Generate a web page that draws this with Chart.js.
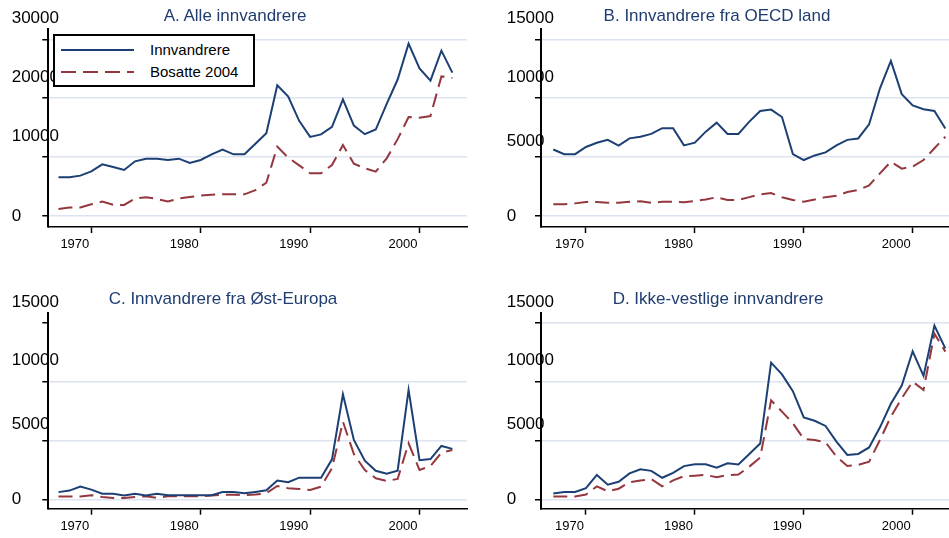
<!DOCTYPE html>
<html>
<head>
<meta charset="utf-8">
<script src="https://cdn.jsdelivr.net/npm/chart.js@4.4.1/dist/chart.umd.min.js"></script>
<style>
  body { margin: 0; background: #fff; }
  #wrap { position: relative; width: 949px; height: 538px; overflow: hidden; background: #fff;
          font-family: "Liberation Sans", Arial, sans-serif; }
  .panel { position: absolute; }
  .ttl { position: absolute; transform: translateX(-50%); white-space: nowrap;
         font-size: 17px; line-height: 18px; color: #1f3d70; }
  .legend { position: absolute; left: 53px; top: 34px; width: 198px; height: 49px;
            border: 2px solid #000; background: #fff; }
  .legend .row { position: absolute; left: 0; width: 198px; height: 20px; }
  .legend svg { position: absolute; left: 6px; top: 0; }
  .legend span { position: absolute; left: 95px; top: 0; font-size: 15px; line-height: 20px; color: #000; }
</style>
</head>
<body>
<div id="wrap">
  <div class="panel" style="left:0;top:0;width:475px;height:270px"><canvas id="cA"></canvas></div>
  <div class="panel" style="left:475px;top:0;width:494px;height:270px"><canvas id="cB"></canvas></div>
  <div class="panel" style="left:0;top:270px;width:475px;height:268px"><canvas id="cC"></canvas></div>
  <div class="panel" style="left:475px;top:270px;width:494px;height:268px"><canvas id="cD"></canvas></div>
  <div class="ttl" id="tA" style="left:235px;top:7px"></div>
  <div class="ttl" id="tB" style="left:717px;top:7px"></div>
  <div class="ttl" id="tC" style="left:223px;top:290px"></div>
  <div class="ttl" id="tD" style="left:718px;top:290px"></div>
  <div class="legend" id="legend"></div>
</div>
<script>
// data, 1967-2003
const years = [1967, 1968, 1969, 1970, 1971, 1972, 1973, 1974, 1975, 1976,
               1977, 1978, 1979, 1980, 1981, 1982, 1983, 1984, 1985, 1986,
               1987, 1988, 1989, 1990, 1991, 1992, 1993, 1994, 1995, 1996,
               1997, 1998, 1999, 2000, 2001, 2002, 2003];
const seriesNames = ['Innvandrere', 'Bosatte 2004'];
const titles = ['A. Alle innvandrere', 'B. Innvandrere fra OECD land',
                'C. Innvandrere fra Øst-Europa', 'D. Ikke-vestlige innvandrere'];

const allInnv = [6570, 6570, 6850, 7580, 8770, 8320, 7810, 9280, 9730, 9730,
                 9510, 9730, 9000, 9510, 10470, 11260, 10470, 10470, 12280, 14060,
                 22180, 20260, 16150, 13430, 13860, 15130, 19810, 15340, 13890, 14680,
                 19020, 23170, 29260, 25070, 22980, 28070, 24340];
const allBos = [1190, 1440, 1440, 1980, 2460, 1900, 1870, 2970, 3200, 2890,
                2460, 2970, 3220, 3480, 3620, 3680, 3680, 3680, 4400, 5650,
                11770, 9900, 8600, 7240, 7240, 8660, 12050, 8880, 8090, 7530,
                9790, 13050, 16800, 16700, 16980, 23700, 23430];

const oecdInnv = [5640, 5250, 5250, 5860, 6210, 6460, 5970, 6590, 6730, 6970,
                  7450, 7450, 5990, 6220, 7160, 7920, 6960, 6960, 8010, 8910,
                  9030, 8400, 5250, 4750, 5140, 5400, 5990, 6460, 6580, 7780,
                  10840, 13160, 10340, 9380, 9060, 8910, 7420];
const oecdBos = [990, 990, 1070, 1190, 1190, 1130, 1130, 1200, 1240, 1110,
                 1200, 1200, 1160, 1270, 1400, 1590, 1360, 1360, 1600, 1840,
                 1950, 1590, 1360, 1210, 1390, 1600, 1710, 2030, 2210, 2590,
                 3620, 4610, 4020, 4190, 4750, 5750, 6730];

const eastInnv = [610, 740, 1080, 820, 470, 470, 330, 470, 330, 470,
                  350, 350, 350, 350, 350, 620, 620, 510, 630, 760,
                  1590, 1450, 1840, 1840, 1840, 3400, 8930, 5050, 3280, 2430,
                  2180, 2430, 9300, 3320, 3420, 4540, 4290];
const eastBos = [230, 230, 230, 340, 200, 100, 100, 200, 250, 110,
                 250, 250, 250, 270, 320, 390, 390, 360, 400, 520,
                 1130, 940, 880, 790, 1080, 2640, 6600, 3850, 2490, 1790,
                 1560, 1730, 4760, 2490, 2830, 3970, 4200];

const nwInnv = [500, 620, 620, 940, 2070, 1240, 1490, 2200, 2560, 2420,
                1830, 2250, 2820, 2970, 2970, 2680, 3060, 2970, 3850, 4740,
                11620, 10620, 9200, 6960, 6680, 6240, 4900, 3770, 3860, 4410,
                6120, 8120, 9680, 12590, 10500, 14770, 12830];
const nwBos = [230, 230, 230, 400, 1100, 680, 900, 1460, 1590, 1730,
               1100, 1610, 1970, 2010, 2070, 1880, 2050, 2100, 2780, 3560,
               8410, 7460, 6460, 5130, 5050, 4850, 3630, 2830, 2920, 3200,
               5050, 7030, 8590, 10010, 9300, 14080, 12560];

const xTicks = [1970, 1980, 1990, 2000];
const yTicksAll = [0, 10000, 20000, 30000];
const yTicksSub = [0, 5000, 10000, 15000];

const NAVY = '#1c3f74';
const MAROON = '#94373e';
const GRID = '#dde3f0';
const FONT = '"Liberation Sans", Arial, sans-serif';

// labels sit above their ticks in the original figure
function yLabel(v) {
  if (v === 0) return '0';
  if (v === 5000) return [String(v), '', '', ''];
  return [String(v), '', '', '', ''];
}

function toPoints(vals) {
  return years.map((x, i) => ({x: x, y: vals[i]}));
}

function makePanel(id, innv, bos, yTicks, yMin, yMax, xMin, xMax, axisW, pad, hideTopGrid) {
  return new Chart(document.getElementById(id), {
    type: 'line',
    data: {
      datasets: [
        {label: seriesNames[0], data: toPoints(innv), borderColor: NAVY, borderWidth: 2,
         pointRadius: 0, tension: 0, fill: false},
        {label: seriesNames[1], data: toPoints(bos), borderColor: MAROON, borderWidth: 2,
         borderDash: [14, 7], pointRadius: 0, tension: 0, fill: false}
      ]
    },
    options: {
      responsive: true,
      maintainAspectRatio: false,
      animation: false,
      layout: {padding: pad},
      plugins: {legend: {display: false}, tooltip: {enabled: false}, title: {display: false}},
      scales: {
        x: {
          type: 'linear', min: xMin, max: xMax,
          afterBuildTicks: s => { s.ticks = xTicks.map(v => ({value: v})); },
          afterFit: s => { s.height = 27; },
          border: {color: '#000', width: 1.5},
          grid: {drawOnChartArea: false, color: '#000', tickLength: 6, tickColor: '#000', tickWidth: 1.5},
          // year labels end at their tick in the original
          ticks: {color: '#000', padding: 4, maxRotation: 0, autoSkip: false, align: 'end', labelOffset: -2,
                  font: {family: FONT, size: 13}, callback: v => String(v)}
        },
        y: {
          min: yMin, max: yMax,
          afterBuildTicks: s => { s.ticks = yTicks.map(v => ({value: v})); },
          afterFit: s => { s.width = axisW; },
          border: {color: '#000', width: 2},
          grid: {
            color: c => (hideTopGrid && c.tick && c.tick.value === yTicks[yTicks.length - 1]) ? 'rgba(0,0,0,0)' : GRID,
            lineWidth: 1.5, tickLength: 6, tickColor: '#000', tickWidth: 1.5
          },
          // mirrored labels are not clipped, so they can run over the axis line as in the original
          ticks: {color: '#000', mirror: true, crossAlign: 'near', padding: -axisW, z: 1,
                  font: {family: FONT, size: 17, lineHeight: '10.5px'}, callback: yLabel}
        }
      }
    }
  });
}

makePanel('cA', allInnv, allBos, yTicksAll, -1870, 31750, 1966.07, 2004.34, 36.6,
          {left: 11.7, right: 8, top: 29, bottom: 16}, false);
makePanel('cB', oecdInnv, oecdBos, yTicksSub, -935, 15870, 1965.87, 2004.44, 34.3,
          {left: 31.7, right: 8, top: 29, bottom: 16}, false);
makePanel('cC', eastInnv, eastBos, yTicksSub, -800, 15870, 1966.07, 2004.34, 36.6,
          {left: 11.7, right: 8, top: 42.7, bottom: 2.3}, true);
makePanel('cD', nwInnv, nwBos, yTicksSub, -800, 15870, 1965.87, 2004.44, 34.3,
          {left: 31.7, right: 8, top: 42.7, bottom: 2.3}, false);

['tA', 'tB', 'tC', 'tD'].forEach((id, i) => { document.getElementById(id).textContent = titles[i]; });

// legend for panel A
const leg = document.getElementById('legend');
const legColors = [NAVY, MAROON];
const legDash = ['', '15 7'];
seriesNames.forEach((name, i) => {
  const row = document.createElement('div');
  row.className = 'row';
  row.style.top = (4 + i * 21.7) + 'px';
  row.innerHTML = '<svg width="74" height="20"><line x1="0" y1="10" x2="73" y2="10" stroke="' + legColors[i] +
    '" stroke-width="2"' + (legDash[i] ? ' stroke-dasharray="' + legDash[i] + '"' : '') + '/></svg>';
  const sp = document.createElement('span');
  sp.textContent = name;
  row.appendChild(sp);
  leg.appendChild(row);
});
</script>
</body>
</html>
